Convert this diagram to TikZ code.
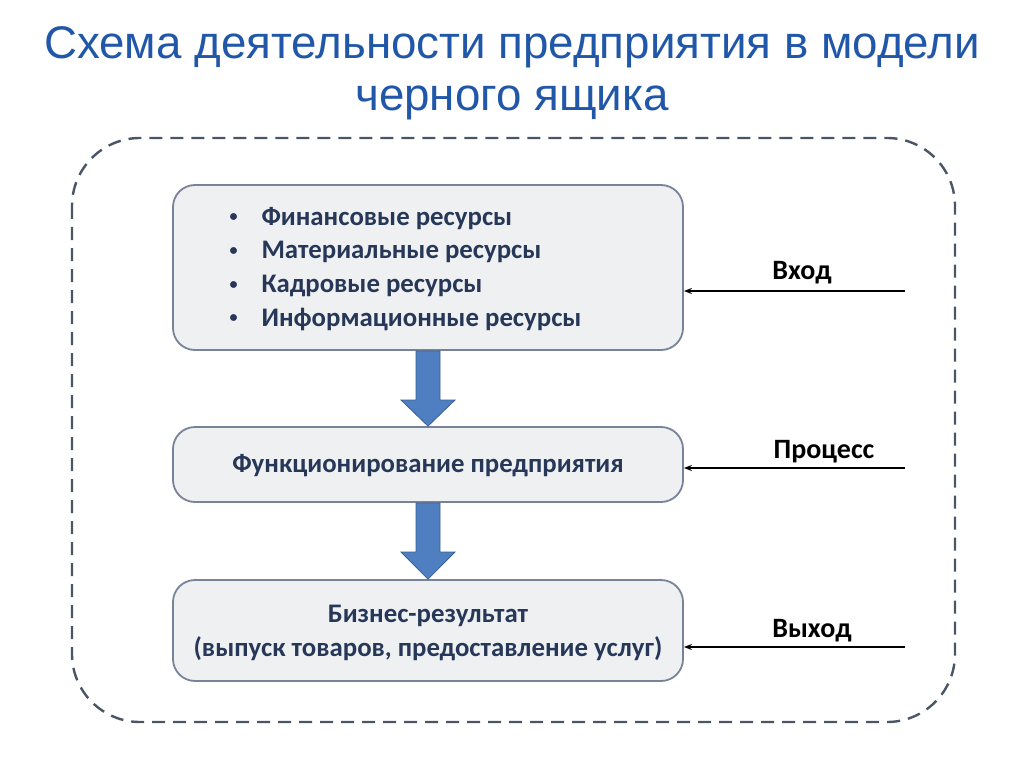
\documentclass[tikz,border=0pt]{standalone}
\usepackage{fontspec}
\setmainfont{Carlito}
\newfontfamily\titlefont{Liberation Sans}
\usetikzlibrary{arrows.meta,shapes.arrows}
\definecolor{titleblue}{HTML}{2157A8}
\definecolor{navy}{HTML}{263758}
\definecolor{boxfill}{HTML}{EFF0F2}
\definecolor{boxline}{HTML}{78839A}
\definecolor{dashc}{HTML}{4A5566}
\definecolor{arrfill}{HTML}{4F7FC0}
\definecolor{arrline}{HTML}{3A5F92}
\tikzset{
  stage/.style={draw=boxline, line width=1.8pt, fill=boxfill, rounded corners=22pt, minimum width=510pt, inner sep=0pt},
  stagetext/.style={font=\fontsize{26.8}{34}\selectfont\bfseries, text=navy, align=center},
  sidelabel/.style={font=\fontsize{28}{32}\selectfont\bfseries, text=black},
  inarrow/.style={line width=1.6pt, -{Stealth[length=8pt,width=6pt]}},
  downarrow/.style={fill=arrfill, draw=arrline, line width=0.8pt, line join=miter}
}
\newcommand{\bul}{\raisebox{0.28ex}{\scalebox{0.6}{\textbullet}}}
\begin{document}
\begin{tikzpicture}[x=1pt,y=-1pt]
\useasboundingbox (0,0) rectangle (1024,767);
% title
\node[font=\titlefont\fontsize{45.7}{52}\selectfont, text=titleblue, align=center] (title) at (512,73) {Схема деятельности предприятия в модели\\черного ящика};
% outer dashed frame
\draw[dashc, line width=2.4pt, dash pattern=on 13pt off 8pt, rounded corners=68pt] (72,138) rectangle (955,722);
% boxes
\node[stage, minimum height=165pt] (b1) at (428,267.5) {};
\node[stagetext, align=left, anchor=west] (b1t) at (226,269) {%
\begin{tabular}{@{}l@{\hspace{24pt}}l@{}}
\bul & Финансовые ресурсы\\[-0.3pt]
\bul & Материальные ресурсы\\[-0.3pt]
\bul & Кадровые ресурсы\\[-0.3pt]
\bul & Информационные ресурсы
\end{tabular}};
\node[stage, minimum height=75pt] (b2) at (428,464.5) {};
\node[stagetext] (b2t) at (428,466) {Функционирование предприятия};
\node[stage, minimum height=101pt] (b3) at (428,630.5) {};
\node[stagetext] (b3t) at (428,633) {Бизнес-результат\\(выпуск товаров, предоставление услуг)};
% down arrows
\draw[downarrow] (b1.south -| 416,0) -- (416,400) -- (401,400) -- (b2.north) -- (455,400) -- (440,400) -- (b1.south -| 440,0) -- cycle;
\draw[downarrow] (b2.south -| 416,0) -- (416,552) -- (401,552) -- (b3.north) -- (455,552) -- (440,552) -- (b2.south -| 440,0) -- cycle;
% side inputs
\coordinate (s1) at (905,291);
\coordinate (s2) at (905,468);
\coordinate (s3) at (905,647);
\draw[inarrow] (s1) -- (s1 -| b1.east);
\draw[inarrow] (s2) -- (s2 -| b2.east);
\draw[inarrow] (s3) -- (s3 -| b3.east);
\node[sidelabel] (l1) at (802,273) {Вход};
\node[sidelabel] (l2) at (824,452) {Процесс};
\node[sidelabel] (l3) at (812,631) {Выход};
\end{tikzpicture}
\end{document}
